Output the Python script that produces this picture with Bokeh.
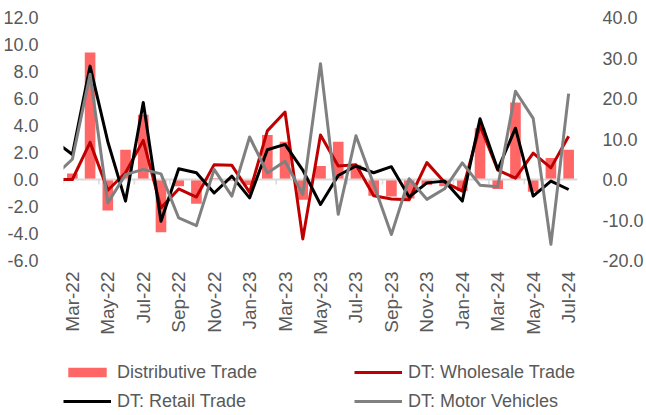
import math
from bokeh.plotting import figure
from bokeh.layouts import column
from bokeh.models import (Range1d, LinearAxis, FixedTicker, NumeralTickFormatter,
                          Legend, LegendItem, ColumnDataSource, Span)
from bokeh.embed import file_html
from bokeh.resources import INLINE

# Months (first entry is the lead-in month, clipped at the left edge of the plot)
months = ["Feb-22", "Mar-22", "Apr-22", "May-22", "Jun-22", "Jul-22", "Aug-22", "Sep-22",
          "Oct-22", "Nov-22", "Dec-22", "Jan-23", "Feb-23", "Mar-23", "Apr-23", "May-23",
          "Jun-23", "Jul-23", "Aug-23", "Sep-23", "Oct-23", "Nov-23", "Dec-23", "Jan-24",
          "Feb-24", "Mar-24", "Apr-24", "May-24", "Jun-24", "Jul-24"]

# Distributive Trade (bars, left axis)
distributive = [float("nan"), 0.45, 9.4, -2.3, 2.2, 4.8, -3.9, -0.5, -1.8, 0.1, -0.1, -0.4,
                3.3, 2.8, -1.5, 1.0, 2.8, 1.1, -1.2, -1.25, -1.4, -0.4, -0.5, -0.86,
                3.8, -0.7, 5.7, -0.9, 1.6, 2.2]
# DT: Wholesale Trade (left axis)
wholesale = [0.0, 0.0, 2.75, -0.8, 0.5, 2.9, -2.1, -0.7, -1.3, 1.1, 1.05, -0.95,
             3.6, 5.0, -4.4, 3.3, 1.0, 1.1, -1.2, -1.45, -1.5, 1.25, -0.2, -0.86,
             4.0, 0.7, 0.1, 1.95, 0.86, 3.2]
# DT: Retail Trade (left axis)
retail = [2.85, 1.85, 8.4, 2.8, -1.6, 5.7, -3.1, 0.8, 0.5, -1.0, 0.25, -1.36,
          2.2, 2.6, 0.7, -1.85, 0.3, 1.0, 0.5, 0.95, -1.3, -0.25, -0.12, -1.6,
          4.5, 0.74, 3.8, -1.23, -0.12, -0.74]
# DT: Motor Vehicles (right axis)
motor = [0.9, 5.0, 26.0, -5.8, 1.2, 2.5, 1.4, -9.5, -11.4, 2.5, -4.1, 10.5,
         1.6, 4.5, -3.7, 28.6, -8.6, 10.8, -1.2, -13.6, 0.2, -4.9, -2.3, 4.1,
         -1.4, -1.8, 21.8, 15.1, -16.0, 21.2]

left_ticks = [-6, -4, -2, 0, 2, 4, 6, 8, 10, 12]
right_ticks = [-20, -10, 0, 10, 20, 30, 40]
series_names = ["Distributive Trade", "DT: Wholesale Trade", "DT: Retail Trade", "DT: Motor Vehicles"]

FONT = "Liberation Sans"
TXT = "#595959"
BAR_C, WH_C, RT_C, MV_C = "#FF6666", "#C00000", "#000000", "#808080"

W, H1, H2 = 646, 345, 70
BL, BR, BT, BB = 63, 67, 17, 85
frame_h = H1 - BT - BB

x = list(range(len(months)))
src = ColumnDataSource(dict(x=x, dist=distributive, whole=wholesale, retail=retail, motor=motor))

p = figure(width=W, height=H1, output_backend="svg", toolbar_location=None,
           x_range=Range1d(0.5, len(months) - 0.5),
           y_range=Range1d(left_ticks[0], left_ticks[-1]),
           min_border_left=BL, min_border_right=BR, min_border_top=BT, min_border_bottom=BB,
           x_axis_type=None, y_axis_type=None)
p.outline_line_color = None
p.extra_y_ranges = {"right": Range1d(right_ticks[0], right_ticks[-1])}

yl = LinearAxis(ticker=FixedTicker(ticks=left_ticks), formatter=NumeralTickFormatter(format="0.0"))
yr = LinearAxis(y_range_name="right", ticker=FixedTicker(ticks=right_ticks),
                formatter=NumeralTickFormatter(format="0.0"))
for ax in (yl, yr):
    ax.axis_line_color = None
    ax.major_tick_line_color = None
    ax.minor_tick_line_color = None
    ax.major_label_text_font = FONT
    ax.major_label_text_font_size = "18px"
    ax.major_label_text_color = TXT
    ax.major_label_standoff = 19
p.add_layout(yl, "left")
p.add_layout(yr, "right")

label_idx = x[1::2]
xa = LinearAxis(ticker=FixedTicker(ticks=label_idx),
                major_label_overrides={i: months[i] for i in label_idx})
xa.axis_line_color = None
xa.major_tick_line_color = None
xa.minor_tick_line_color = None
xa.major_label_orientation = math.pi / 2
xa.major_label_text_font = FONT
xa.major_label_text_font_size = "19px"
xa.major_label_text_color = TXT
xa.major_label_standoff = 5
p.add_layout(xa, "below")

p.vbar(x="x", top="dist", width=0.6, source=src, fill_color=BAR_C,
       line_color=None, level="underlay")

# zero line and category tick marks
p.add_layout(Span(location=0, dimension="width", line_color="#D9D9D9", line_width=2,
                  level="underlay"))
bounds = [i + 0.5 for i in x[:-1:2]]
tick_len = 5 * (left_ticks[-1] - left_ticks[0]) / frame_h
p.segment(x0=bounds, x1=bounds, y0=[0] * len(bounds), y1=[-tick_len] * len(bounds),
          line_color="#D9D9D9", line_width=1.5, level="underlay")

lw = dict(line_width=3, line_join="round")
p.line("x", "whole", source=src, line_color=WH_C, **lw)
p.line("x", "retail", source=src, line_color=RT_C, **lw)
p.line("x", "motor", source=src, line_color=MV_C, **lw, y_range_name="right")

# Legend strip: second figure whose view window lies far above the data,
# so its renderers only supply the legend swatches.
lg = figure(width=W, height=H2, output_backend="svg", toolbar_location=None,
            x_range=Range1d(0.5, len(months) - 0.5), y_range=Range1d(1000, 1001),
            min_border_left=0, min_border_right=0, min_border_top=0, min_border_bottom=0,
            x_axis_type=None, y_axis_type=None)
lg.outline_line_color = None
lg.xgrid.visible = False
lg.ygrid.visible = False
r_bar = lg.vbar(x="x", top="dist", width=0.6, source=src, fill_color=BAR_C, line_color=None)
r_wh = lg.line("x", "whole", source=src, line_color=WH_C, line_width=3)
r_rt = lg.line("x", "retail", source=src, line_color=RT_C, line_width=3)
r_mv = lg.line("x", "motor", source=src, line_color=MV_C, line_width=3)

row_h, row_gap = 21, 8
leg_h = 2 * row_h + row_gap
legend = Legend(items=[LegendItem(label=n, renderers=[r]) for n, r in
                       zip(series_names, [r_bar, r_wh, r_rt, r_mv])],
                orientation="horizontal", ncols=2,
                location=(0, H2 - 16.5 - leg_h),
                margin=0, padding=0, spacing=row_gap,
                glyph_width=48, glyph_height=12, label_standoff=6,
                label_width=229, label_height=19,
                label_text_font=FONT, label_text_font_size="18px", label_text_color=TXT,
                background_fill_alpha=0, border_line_color=None)
lg.add_layout(legend, "center")

open("out.html", "w").write(file_html(column(p, lg, spacing=0), INLINE))
